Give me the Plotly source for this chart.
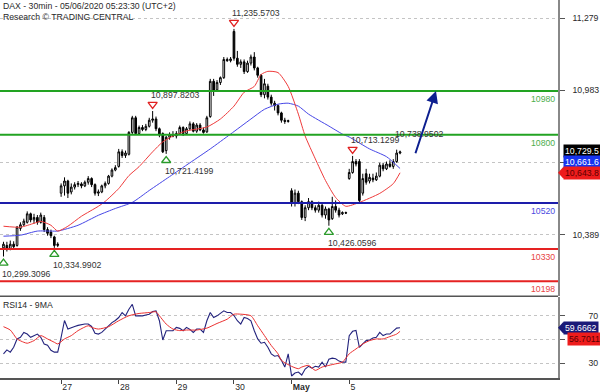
import plotly.graph_objects as go

# ---------------- data ----------------
TITLE = "DAX - 30min - 05/06/2020 05:23:30 (UTC+2)"
SUBTITLE = "Research © TRADING CENTRAL"
RSI_TITLE = "RSI14 - 9MA"

day_labels = ["27", "28", "29", "30", "<b>May</b>", "5"]
day_start_bar = [17, 34, 51, 68, 85, 102]

opens = [10335, 10345, 10330, 10350, 10345, 10415, 10430, 10440, 10475, 10450, 10460, 10440, 10460, 10410, 10400, 10380, 10345,
         10560, 10590, 10610, 10565, 10585, 10595, 10598, 10590, 10605, 10620, 10595, 10560, 10565, 10590, 10600, 10630, 10655,
         10670, 10730, 10715, 10720, 10810, 10870, 10805, 10830, 10822, 10835, 10860, 10865, 10825, 10805, 10735, 10790, 10800,
         10795, 10805, 10830, 10805, 10825, 10845, 10815, 10840, 10820, 10812, 10875, 11020, 10985, 11015, 11035, 11110, 11105,
         11225, 11115, 11090, 11100, 11060, 11095, 11120, 11075, 11045, 10965, 11000, 10955, 10930, 10920, 10890, 10860, 10855,
         10570, 10520, 10560, 10525, 10460, 10500, 10525, 10500, 10490, 10510, 10470, 10495, 10455, 10505, 10490, 10475, 10480,
         10620, 10645, 10690, 10690, 10560, 10640, 10610, 10622, 10615, 10630, 10675, 10660, 10680, 10670, 10690, 10725]
highs = [10360, 10360, 10365, 10362, 10425, 10440, 10455, 10485, 10480, 10475, 10470, 10480, 10470, 10420, 10410, 10385, 10358,
         10600, 10625, 10615, 10600, 10605, 10610, 10605, 10612, 10630, 10625, 10600, 10575, 10595, 10608, 10635, 10662, 10675,
         10742, 10740, 10735, 10815, 10878, 10878, 10838, 10840, 10845, 10870, 10897.8203, 10875, 10830, 10810, 10795, 10810, 10815,
         10815, 10838, 10835, 10832, 10855, 10852, 10848, 10848, 10830, 10878, 11030, 11030, 11025, 11040, 11120, 11118, 11120,
         11235.5703, 11145, 11110, 11110, 11105, 11130, 11140, 11080, 11050, 11030, 11010, 10965, 10940, 10925, 10895, 10870, 10862,
         10580, 10575, 10570, 10530, 10510, 10540, 10530, 10510, 10525, 10520, 10505, 10500, 10545, 10530, 10500, 10485, 10484,
         10660, 10713.1299, 10700, 10700, 10640, 10660, 10640, 10640, 10645, 10685, 10685, 10690, 10695, 10700, 10738.9502, 10735]
lows = [10299.3096, 10320, 10325, 10330, 10340, 10405, 10425, 10435, 10440, 10435, 10430, 10435, 10400, 10385, 10375, 10334.9902, 10338,
        10545, 10550, 10540, 10555, 10575, 10585, 10580, 10585, 10595, 10585, 10550, 10548, 10560, 10580, 10595, 10625, 10650,
        10665, 10705, 10705, 10715, 10800, 10800, 10800, 10815, 10815, 10830, 10850, 10815, 10790, 10725, 10721.4199, 10780, 10790,
        10785, 10800, 10795, 10800, 10818, 10810, 10808, 10815, 10805, 10808, 10870, 10960, 10980, 11005, 11030, 11100, 11098,
        11105, 11080, 11075, 11050, 11055, 11085, 11065, 11035, 10955, 10950, 10945, 10920, 10900, 10880, 10850, 10845, 10850,
        10505, 10505, 10515, 10450, 10445, 10490, 10490, 10480, 10480, 10460, 10455, 10426.0596, 10450, 10480, 10460, 10470, 10474,
        10615, 10640, 10670, 10522, 10550, 10595, 10600, 10605, 10610, 10625, 10650, 10655, 10665, 10660, 10685, 10720]
closes = [10350, 10330, 10350, 10340, 10420, 10430, 10445, 10475, 10450, 10460, 10440, 10470, 10410, 10395, 10385, 10345, 10350,
          10590, 10610, 10560, 10585, 10595, 10600, 10590, 10605, 10620, 10595, 10560, 10565, 10590, 10600, 10630, 10655, 10665,
          10730, 10715, 10725, 10810, 10870, 10805, 10830, 10822, 10835, 10860, 10865, 10825, 10800, 10730, 10790, 10800, 10795,
          10805, 10830, 10805, 10825, 10845, 10815, 10840, 10820, 10810, 10870, 11020, 10980, 11015, 11035, 11110, 11105, 11112,
          11115, 11090, 11100, 11060, 11095, 11120, 11075, 11045, 10965, 11010, 10955, 10930, 10920, 10890, 10860, 10855, 10858,
          10520, 10560, 10525, 10460, 10500, 10525, 10500, 10490, 10510, 10470, 10495, 10450, 10505, 10490, 10470, 10480, 10478,
          10645, 10690, 10680, 10530, 10620, 10605, 10625, 10615, 10630, 10675, 10660, 10680, 10670, 10690, 10725, 10729.5]
bars = list(range(len(closes)))

ma_fast_bar = [0, 5, 9, 11, 14, 16, 19, 23, 28, 30, 34, 37, 40, 44, 47, 50, 54, 60, 64, 68, 71, 74, 76, 78, 81, 84,
               87, 89, 92, 95, 98, 101, 105, 111, 115, 117]
ma_fast = [10424, 10420, 10436, 10444, 10428, 10404, 10424, 10465, 10506, 10526, 10579, 10632, 10669, 10730, 10771, 10795,
           10816, 10832, 10865, 10918, 10975, 10999, 11048, 11061, 11056, 10999, 10885, 10795, 10701, 10612, 10542, 10506,
           10522, 10559, 10599, 10643.8]
ma_slow_bar = [0, 5, 10, 14, 16, 22, 28, 33, 38, 43, 49, 55, 61, 67, 73, 77, 81, 84, 87, 90, 96, 100, 102, 108, 113, 117]
ma_slow = [10383, 10387, 10404, 10404, 10404, 10428, 10469, 10497, 10522, 10571, 10628, 10685, 10742, 10803, 10865, 10905,
           10926, 10930, 10918, 10885, 10836, 10803, 10791, 10742, 10710, 10661.6]

rsi = [37.7, 41.1, 39.2, 43.3, 50.3, 51.7, 55.8, 54.4, 51.7, 53.3, 54.4, 51.7, 46.1, 45.0, 40.8, 39.2, 39.2,
       51.7, 65.8, 58.6, 60.0, 60.8, 61.7, 62.5, 62.8, 62.8, 60.8, 55.0, 54.4, 55.8, 58.6, 61.7, 64.0, 65.8,
       68.3, 72.5, 69.7, 75.2, 79.4, 69.7, 69.7, 69.7, 70.4, 71.1, 73.3, 73.9, 65.6, 49.4, 57.2, 57.2, 57.2,
       60.0, 59.2, 57.2, 60.0, 58.3, 55.8, 58.6, 58.6, 55.8, 65.6, 72.5, 68.3, 69.7, 71.7, 73.9, 72.5, 72.5,
       70.0, 65.6, 62.8, 68.3, 67.5, 65.6, 57.2, 50.3, 46.7, 47.5, 43.3, 37.8, 35.8, 36.4, 32.3, 26.7, 37.8,
       19.2, 21.7, 22.5, 20.0, 25.0, 27.3, 25.8, 27.3, 26.7, 30.8, 26.7, 33.3, 34.2, 33.6, 31.7, 30.8, 30.8,
       53.1, 56.7, 57.5, 43.3, 46.1, 48.9, 49.4, 51.1, 51.7, 55.8, 53.1, 54.4, 54.4, 57.2, 59.4, 59.6662]
rsi_ma_bar = [0, 2, 4, 6, 7, 9, 11, 13, 15, 16, 18, 20, 22, 25, 26, 28, 31, 34, 37, 40, 43, 45, 46, 48, 50, 52, 54, 57,
              60, 63, 66, 68, 70, 73, 75, 77, 79, 81, 82, 85, 87, 88, 90, 92, 94, 96, 98, 100, 102, 104, 106, 108,
              110, 112, 114, 116, 117]
rsi_ma = [60.6, 57.8, 50.3, 47.5, 46.7, 48.9, 53.1, 50.3, 47.5, 46.1, 50.3, 53.1, 57.3, 61.4, 60.0, 58.6, 60.6, 65.6,
          69.8, 71.7, 72.5, 73.1, 69.8, 62.8, 58.6, 57.3, 57.8, 57.8, 59.4, 63.3, 66.9, 71.1, 71.1, 69.8, 61.4, 53.1,
          44.8, 37.8, 32.3, 27.3, 25.3, 26.7, 28.1, 23.9, 26.7, 28.1, 29.4, 30.8, 37.8, 41.9, 46.1, 48.9, 50.3, 50.3,
          52.3, 54.4, 56.7011]

levels = [10980, 10800, 10520, 10330, 10198]
level_kind = ["res", "res", "pivot", "sup", "sup"]

pivot_high_bar = [44, 68, 103]
pivot_low_bar = [0, 15, 48, 96]
pending_high_bar = [116]

arrow_start = (121.4, 10718)
arrow_end = (127.6, 10980)

price_ticks = [10389, 10686, 10983, 11279]
price_tick_text = ["10,389", "", "10,983", "11,279"]
rsi_ticks = [30, 50, 70]
rsi_tick_text = ["30", "", "70"]

# ---------------- style ----------------
FONT = "Liberation Sans, Arial, sans-serif"
FS = 8.7
TXT = "#2a2a2a"
W, H = 600, 392
MR, MB = 42, 11
PW, PH = W - MR, H - MB
main_dom = [(PH - 298) / PH, 1.0]
rsi_dom = [0.0, (PH - 299) / PH]
YR = [10138.4, 11354.5]
RR = [17.5, 85.83]
XR = [-1.03, 163.6]

lvl_line = {"res": "#22a322", "pivot": "#1d1daa", "sup": "#e52222"}
lvl_text = {"res": "#4cad4c", "pivot": "#4a4adf", "sup": "#e84444"}


def py_main(v):
    return main_dom[0] + (v - YR[0]) / (YR[1] - YR[0]) * (main_dom[1] - main_dom[0])


def py_rsi(v):
    return rsi_dom[0] + (v - RR[0]) / (RR[1] - RR[0]) * (rsi_dom[1] - rsi_dom[0])


fig = go.Figure()

fig.add_trace(go.Candlestick(
    x=bars, open=opens, high=highs, low=lows, close=closes,
    increasing=dict(line=dict(color="#000000", width=1), fillcolor="#ffffff"),
    decreasing=dict(line=dict(color="#000000", width=1), fillcolor="#000000"),
    whiskerwidth=0, xaxis="x", yaxis="y", hoverinfo="skip"))

fig.add_trace(go.Scatter(x=ma_slow_bar, y=ma_slow, mode="lines", xaxis="x", yaxis="y",
                         line=dict(color="#4646e6", width=1, shape="spline", smoothing=0.6)))
fig.add_trace(go.Scatter(x=ma_fast_bar, y=ma_fast, mode="lines", xaxis="x", yaxis="y",
                         line=dict(color="#ef3b3b", width=1, shape="spline", smoothing=0.6)))

PAD = 27
fig.add_trace(go.Scatter(
    x=pivot_high_bar, y=[highs[i] + PAD for i in pivot_high_bar], mode="markers", xaxis="x", yaxis="y",
    marker=dict(symbol="triangle-down-open", size=8, color="#e02020", line=dict(width=1.3))))
fig.add_trace(go.Scatter(
    x=pivot_low_bar, y=[lows[i] - PAD for i in pivot_low_bar], mode="markers", xaxis="x", yaxis="y",
    marker=dict(symbol="triangle-up-open", size=8, color="#2a9a2a", line=dict(width=1.3))))

fig.add_trace(go.Scatter(x=bars, y=rsi, mode="lines", xaxis="x", yaxis="y2",
                         line=dict(color="#23237d", width=1.1)))
fig.add_trace(go.Scatter(x=rsi_ma_bar, y=rsi_ma, mode="lines", xaxis="x", yaxis="y2",
                         line=dict(color="#ea3030", width=1, shape="spline", smoothing=0.6)))

shapes = []
annotations = []

for lv, kind in zip(levels, level_kind):
    shapes.append(dict(type="line", xref="paper", yref="y", x0=0, x1=1, y0=lv, y1=lv,
                       line=dict(color=lvl_line[kind], width=2), layer="above"))
    annotations.append(dict(xref="paper", yref="y", x=1, y=lv, xanchor="right", yanchor="top",
                            xshift=-1, yshift=-1, text=str(lv), showarrow=False,
                            font=dict(family=FONT, size=FS, color=lvl_text[kind])))

for i in pivot_high_bar + pending_high_bar:
    annotations.append(dict(xref="x", yref="y", x=i, y=highs[i], xanchor="left", yanchor="middle",
                            xshift=-4, yshift=16, text=f"{highs[i]:,.4f}", showarrow=False,
                            font=dict(family=FONT, size=FS, color="#333333")))
for i in pivot_low_bar:
    annotations.append(dict(xref="x", yref="y", x=i, y=lows[i], xanchor="left", yanchor="middle",
                            xshift=-3, yshift=-17, text=f"{lows[i]:,.4f}", showarrow=False,
                            font=dict(family=FONT, size=FS, color="#333333")))

annotations.append(dict(xref="x", yref="y", axref="x", ayref="y",
                        x=arrow_end[0], y=arrow_end[1], ax=arrow_start[0], ay=arrow_start[1],
                        showarrow=True, arrowhead=2, arrowsize=1.2, arrowwidth=2,
                        arrowcolor="#0d1f8f", text=""))

annotations.append(dict(xref="paper", yref="paper", x=0, y=1, xanchor="left", yanchor="top",
                        xshift=1, yshift=1, align="left", showarrow=False,
                        text=TITLE + "<br>" + SUBTITLE,
                        font=dict(family=FONT, size=FS, color=TXT)))
annotations.append(dict(xref="paper", yref="paper", x=0, y=rsi_dom[1], xanchor="left", yanchor="top",
                        xshift=1, yshift=-1, showarrow=False, text=RSI_TITLE,
                        font=dict(family=FONT, size=FS, color=TXT)))

# right-hand value boxes
px_x = 1.0 / PW
px_y = 1.0 / PH
boxes = [
    ("y", closes[-1], f"{closes[-1]:,.1f}", "#000000", "#ffffff", 1, False, 5),
    ("y", ma_slow[-1], f"{ma_slow[-1]:,.1f}", "#1733f0", "#ffffff", 6, False, 5),
    ("y", ma_fast[-1], f"{ma_fast[-1]:,.1f}", "#ee1c1c", "#5a0000", 0, True, 5),
    ("y2", rsi[-1], f"{rsi[-1]:.4f}", "#1a1a78", "#ffffff", 0, True, 5),
    ("y2", rsi_ma[-1], f"{rsi_ma[-1]:.4f}", "#ee1c1c", "#5a0000", -8, False, 9),
]
for ax, v, txt, bg, fc, ysh, tip, xsh in boxes:
    annotations.append(dict(xref="paper", yref=ax, x=1, y=v, xanchor="left", yanchor="middle",
                            xshift=xsh, yshift=ysh, text=txt, showarrow=False, bgcolor=bg,
                            borderpad=1, font=dict(family=FONT, size=FS, color=fc)))
    if tip:
        yc = (py_main(v) if ax == "y" else py_rsi(v)) + ysh * px_y
        shapes.append(dict(type="path", xref="paper", yref="paper", layer="above",
                           path=f"M 1,{yc} L {1 + 5 * px_x},{yc + 5.5 * px_y} "
                                f"L {1 + 6 * px_x},{yc + 5.5 * px_y} L {1 + 6 * px_x},{yc - 5.5 * px_y} "
                                f"L {1 + 5 * px_x},{yc - 5.5 * px_y} Z",
                           fillcolor=bg, line=dict(width=0)))

# panel separator
shapes.append(dict(type="line", xref="paper", yref="paper", x0=0, x1=1,
                   y0=(PH - 298.5) / PH, y1=(PH - 298.5) / PH, line=dict(color="#555555", width=1.5)))

fig.update_layout(
    width=W, height=H, autosize=False,
    margin=dict(l=0, r=MR, t=0, b=MB, pad=0),
    paper_bgcolor="#ffffff", plot_bgcolor="#ffffff",
    showlegend=False,
    font=dict(family=FONT, size=FS, color=TXT),
    xaxis=dict(anchor="y2", range=XR, tickmode="array", tickvals=day_start_bar, ticktext=day_labels,
               ticks="outside", ticklen=4, tickcolor="#444444", ticklabelposition="outside right",
               showline=True, linecolor="#555555", linewidth=1.5, showgrid=False, zeroline=False,
               rangeslider=dict(visible=False), tickfont=dict(family=FONT, size=FS, color=TXT),
               fixedrange=True),
    yaxis=dict(domain=main_dom, range=YR, side="right", anchor="x", tickmode="array",
               tickvals=price_ticks, ticktext=price_tick_text,
               ticks="outside", ticklen=5, tickcolor="#555555", ticklabelstandoff=6,
               showline=True, linecolor="#888888", linewidth=1.5,
               showgrid=True, gridcolor="#c4c4c4", griddash="dot", gridwidth=1, zeroline=False,
               tickfont=dict(family=FONT, size=FS, color=TXT)),
    yaxis2=dict(domain=rsi_dom, range=RR, side="right", anchor="x", tickmode="array",
                tickvals=rsi_ticks, ticktext=rsi_tick_text,
                ticks="outside", ticklen=5, tickcolor="#555555", ticklabelstandoff=22,
                showline=True, linecolor="#888888", linewidth=1.5,
                showgrid=True, gridcolor="#c4c4c4", griddash="dot", gridwidth=1, zeroline=False,
                tickfont=dict(family=FONT, size=FS, color=TXT)),
    shapes=shapes,
    annotations=annotations,
)

fig.write_html("out.html")
